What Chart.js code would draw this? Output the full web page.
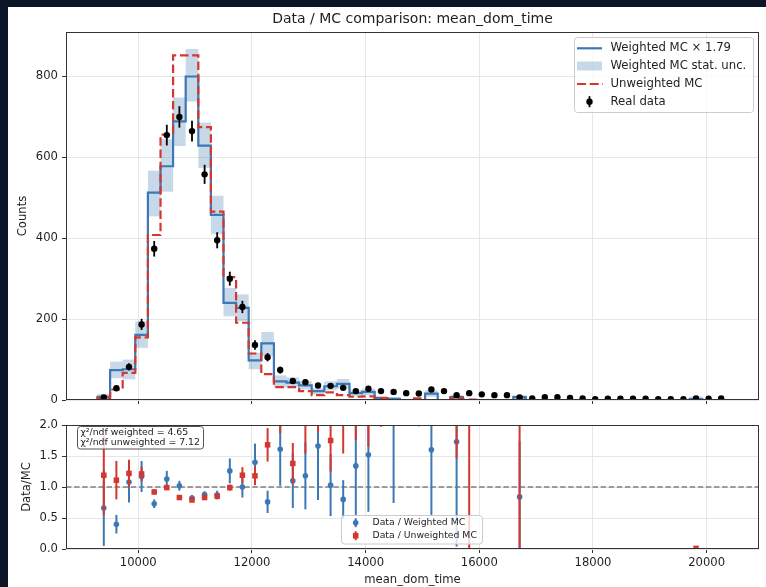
<!DOCTYPE html>
<html>
<head>
<meta charset="utf-8">
<title>Data / MC comparison: mean_dom_time</title>
<script src="https://cdn.jsdelivr.net/npm/chart.js@4.4.1/dist/chart.umd.min.js"></script>
<style>
html, body { margin:0; padding:0; background:#0c1628; width:766px; height:587px; overflow:hidden; }
#fig { position:absolute; left:8px; top:7px; width:758px; height:580px; background:#ffffff; }
canvas { position:absolute; left:0; }
#main { top:0; }
#ratio { top:410px; }
</style>
</head>
<body>
<div id="fig"></div>
<canvas id="main" width="766" height="415"></canvas>
<canvas id="ratio" width="766" height="177"></canvas>
<script>
// ---------------- data ----------------
const binEdges = [9282, 9504, 9725, 9947, 10169, 10391, 10612, 10834, 11056, 11277, 11499, 11721, 11942, 12164, 12386, 12608, 12829, 13051, 13273, 13494, 13716, 13938, 14159, 14381, 14603, 14825, 15046, 15268, 15490, 15711, 15933, 16155, 16376, 16598, 16820, 17042, 17263, 17485, 17707, 17928, 18150, 18372, 18593, 18815, 19037, 19258, 19480, 19702, 19924, 20145, 20367];

const realData = [6, 29, 82, 187, 374, 655, 700, 665, 558, 395, 300, 230, 136, 106, 74, 47, 44, 36, 35, 30, 22, 28, 22, 20, 17, 16, 26, 22, 12, 17, 14, 12, 12, 6, 4, 7, 7, 5, 4, 2, 3, 3, 3, 3, 2, 2, 2, 4, 3, 4];
const realDataErr = [2.4, 5.4, 9.1, 13.7, 19.3, 25.6, 26.5, 25.8, 23.6, 19.9, 17.3, 15.2, 11.7, 10.3, 8.6, 6.9, 6.6, 6.0, 5.9, 5.5, 4.7, 5.3, 4.7, 4.5, 4.1, 4.0, 5.1, 4.7, 3.5, 4.1, 3.7, 3.5, 3.5, 2.4, 2.0, 2.6, 2.6, 2.2, 2.0, 1.4, 1.7, 1.7, 1.7, 1.7, 1.4, 1.4, 1.4, 2.0, 1.7, 2.0];

const weightedMC = [8, 74, 76, 161, 513, 578, 689, 800, 629, 458, 240, 228, 98, 140, 46, 43, 36, 22, 34, 40, 17, 20, 5, 3, 0, 0, 16, 0, 7, 0, 0, 0, 0, 7, 0, 0, 0, 0, 0, 0, 0, 0, 0, 0, 0, 0, 0, 2, 0, 0];
const weightedLow = [3, 54, 51, 129, 454, 515, 628, 738, 574, 410, 207, 195, 76, 109, 31, 31, 26, 14, 24, 28, 9, 12, 1, 0, 0, 0, 8, 0, 2, 0, 0, 0, 0, 2, 0, 0, 0, 0, 0, 0, 0, 0, 0, 0, 0, 0, 0, 0, 0, 0];
const weightedHigh = [15, 95, 100, 195, 567, 645, 748, 868, 686, 505, 277, 261, 117, 168, 61, 56, 47, 30, 46, 52, 25, 28, 10, 7, 0, 0, 24, 0, 13, 0, 0, 0, 0, 12, 0, 0, 0, 0, 0, 0, 0, 0, 0, 0, 0, 0, 0, 9, 0, 0];

const unweightedMC = [5, 26, 67, 155, 408, 656, 852, 852, 675, 466, 304, 191, 115, 64, 32, 32, 22, 12, 19, 12, 8, 9, 5, 0, 0, 4, 0, 0, 5, 1, 0, 0, 0, 1, 0, 0, 0, 0, 0, 0, 0, 0, 0, 0, 0, 0, 0, 0, 0, 0];

const ratioWeighted = [0.66, 0.40, 1.08, 1.17, 0.73, 1.13, 1.02, 0.82, 0.88, 0.87, 1.26, 1.00, 1.40, 0.76, 1.61, 1.10, 1.18, 1.66, 1.03, 0.80, 1.34, 1.52, null, 2.90, null, null, 1.60, null, 1.73, null, null, null, null, 0.84, null, null, null, null, null, null, null, null, null, null, null, null, null, null, null, null];
const ratioWeightedErr = [0.61, 0.15, 0.33, 0.25, 0.07, 0.13, 0.08, 0.05, 0.05, 0.07, 0.20, 0.17, 0.30, 0.18, 0.59, 0.44, 0.54, 0.87, 0.50, 0.31, 0.79, 0.92, null, 2.16, null, null, 1.05, null, 1.69, null, null, null, null, 0.90, null, null, null, null, null, null, null, null, null, null, null, null, null, null, null, null];

const ratioUnweighted = [1.19, 1.11, 1.22, 1.21, 0.92, 0.99, 0.83, 0.79, 0.83, 0.85, 0.99, 1.19, 1.18, 1.68, 2.31, 1.38, 2.20, 3.00, 1.75, 2.60, 2.80, 3.10, 4.40, null, null, 4.00, null, null, 2.40, 17.0, null, null, null, 6.0, null, null, null, null, null, null, null, null, null, null, null, null, null, 0.01, null, null];
const ratioUnweightedErr = [0.64, 0.31, 0.22, 0.12, 0.04, 0.04, 0.03, 0.03, 0.03, 0.04, 0.05, 0.13, 0.15, 0.27, 0.44, 0.33, 0.66, 1.11, 0.50, 1.06, 1.04, 1.45, 2.43, null, null, 2.02, null, null, 0.94, 17.5, null, null, null, 6.5, null, null, null, null, null, null, null, null, null, null, null, null, null, 0.01, null, null];

const xRange = [8728, 20921];
const xTickValues = [10000, 12000, 14000, 16000, 18000, 20000];
const countRange = [0, 910];
const countTickValues = [0, 200, 400, 600, 800];
const ratioRange = [0, 2];
const ratioTickValues = [0.0, 0.5, 1.0, 1.5, 2.0];

const titleText = 'Data / MC comparison: mean_dom_time';
const xLabel = 'mean_dom_time';
const countLabel = 'Counts';
const ratioLabel = 'Data/MC';
const mainLegendLabels = ['Weighted MC \u00d7 1.79', 'Weighted MC stat. unc.', 'Unweighted MC', 'Real data'];
const ratioLegendLabels = ['Data / Weighted MC', 'Data / Unweighted MC'];
const chiLines = ['\u03c7\u00b2/ndf weighted = 4.65', '\u03c7\u00b2/ndf unweighted = 7.12'];

// ---------------- styling ----------------
const TXT = '#1e1e1e';
const BLUE = '#3b78b5';
const RED = '#d3372f';
const BAND = 'rgba(70,130,180,0.3)';
const GRID = '#e6e6e6';
const SPINE = '#333333';
const FAMILY = "'DejaVu Sans', sans-serif";

Chart.defaults.font.family = FAMILY;
Chart.defaults.font.size = 11.6;
Chart.defaults.color = TXT;

const binCenters = binEdges.slice(0, -1).map((e, i) => (e + binEdges[i + 1]) / 2);

function stepLine(values) {
  const last = binEdges[binEdges.length - 1];
  const pts = [{x: binEdges[0], y: 0}];
  values.forEach((v, i) => pts.push({x: binEdges[i], y: v}));
  pts.push({x: last, y: values[values.length - 1]});
  pts.push({x: last, y: 0});
  return pts;
}
function ratioPoints(vals) {
  return binCenters.map((c, i) => vals[i] === null ? null : {x: c, y: vals[i]}).filter(p => p);
}
function ratioBars(vals, errs) {
  return binCenters.map((c, i) => vals[i] === null ? null : {x: c, y: [vals[i] - errs[i], vals[i] + errs[i]]}).filter(p => p);
}
function rrect(ctx, x, y, w, h, r) {
  ctx.beginPath();
  ctx.moveTo(x + r, y);
  ctx.lineTo(x + w - r, y);
  ctx.arcTo(x + w, y, x + w, y + r, r);
  ctx.lineTo(x + w, y + h - r);
  ctx.arcTo(x + w, y + h, x + w - r, y + h, r);
  ctx.lineTo(x + r, y + h);
  ctx.arcTo(x, y + h, x, y + h - r, r);
  ctx.lineTo(x, y + r);
  ctx.arcTo(x, y, x + r, y, r);
  ctx.closePath();
}

const framePlugin = {
  id: 'frame',
  afterDatasetsDraw(chart) {
    const {ctx, chartArea: a} = chart;
    ctx.save();
    ctx.strokeStyle = SPINE;
    ctx.lineWidth = 1;
    ctx.strokeRect(Math.round(a.left) + 0.5, Math.round(a.top) + 0.5,
                   Math.round(a.right - a.left) - 1, Math.round(a.bottom - a.top) - 1);
    ctx.restore();
  }
};

const mainLegend = {
  id: 'mainLegend',
  afterDraw(chart) {
    const ctx = chart.ctx;
    ctx.save();
    rrect(ctx, 574.5, 37.5, 179, 75, 3);
    ctx.fillStyle = 'rgba(255,255,255,0.8)';
    ctx.fill();
    ctx.strokeStyle = '#cccccc';
    ctx.lineWidth = 1;
    ctx.stroke();
    const x0 = 577, x1 = 602, xc = 589.5, tx = 610.5;
    const ys = [48.3, 66, 84, 101.7];
    ctx.strokeStyle = BLUE; ctx.lineWidth = 2.2; ctx.setLineDash([]);
    ctx.beginPath(); ctx.moveTo(x0, ys[0]); ctx.lineTo(x1, ys[0]); ctx.stroke();
    ctx.fillStyle = BAND;
    ctx.fillRect(x0, ys[1] - 4.5, x1 - x0, 9);
    ctx.strokeStyle = RED; ctx.setLineDash([9, 3.7]);
    ctx.beginPath(); ctx.moveTo(x0, ys[2]); ctx.lineTo(x1 + 1, ys[2]); ctx.stroke();
    ctx.setLineDash([]);
    ctx.strokeStyle = '#000'; ctx.lineWidth = 1.8;
    ctx.beginPath(); ctx.moveTo(xc, ys[3] - 5.5); ctx.lineTo(xc, ys[3] + 5.5); ctx.stroke();
    ctx.fillStyle = '#000';
    ctx.beginPath(); ctx.arc(xc, ys[3], 3.2, 0, Math.PI * 2); ctx.fill();
    ctx.fillStyle = TXT;
    ctx.font = '11.7px ' + FAMILY;
    ctx.textBaseline = 'middle';
    ctx.textAlign = 'left';
    mainLegendLabels.forEach((t, i) => ctx.fillText(t, tx, ys[i]));
    ctx.restore();
  }
};

const ratioDecor = {
  id: 'ratioDecor',
  afterDraw(chart) {
    const ctx = chart.ctx;
    ctx.save();
    rrect(ctx, 77.5, 16.5, 126, 22.5, 3);
    ctx.fillStyle = 'rgba(255,255,255,0.8)';
    ctx.fill();
    ctx.strokeStyle = '#555555';
    ctx.lineWidth = 1;
    ctx.stroke();
    ctx.fillStyle = TXT;
    ctx.font = '9.3px ' + FAMILY;
    ctx.textBaseline = 'middle';
    ctx.textAlign = 'left';
    chiLines.forEach((t, i) => ctx.fillText(t, 80.5, 22.5 + i * 10));
    rrect(ctx, 341.5, 105.5, 141, 28.5, 3);
    ctx.fillStyle = 'rgba(255,255,255,0.8)';
    ctx.fill();
    ctx.strokeStyle = '#cccccc';
    ctx.stroke();
    const xc = 355.7, ys = [112.7, 125.7];
    ctx.lineWidth = 2;
    ctx.strokeStyle = BLUE;
    ctx.beginPath(); ctx.moveTo(xc, ys[0] - 4.5); ctx.lineTo(xc, ys[0] + 4.5); ctx.stroke();
    ctx.fillStyle = BLUE;
    ctx.beginPath(); ctx.arc(xc, ys[0], 2.8, 0, Math.PI * 2); ctx.fill();
    ctx.strokeStyle = RED;
    ctx.beginPath(); ctx.moveTo(xc, ys[1] - 4.5); ctx.lineTo(xc, ys[1] + 4.5); ctx.stroke();
    ctx.fillStyle = RED;
    ctx.fillRect(xc - 2.8, ys[1] - 2.8, 5.6, 5.6);
    ctx.fillStyle = TXT;
    ctx.font = '9.3px ' + FAMILY;
    ratioLegendLabels.forEach((t, i) => ctx.fillText(t, 372.5, ys[i]));
    ctx.restore();
  }
};

function fixedTicks(values) {
  return s => { s.ticks = values.map(v => ({value: v})); };
}

function xScale(showLabels) {
  return {
    type: 'linear', min: xRange[0], max: xRange[1], offset: false,
    border: {display: false},
    grid: {offset: false, color: GRID, lineWidth: 1, drawTicks: true, tickLength: 4, tickColor: SPINE, tickWidth: 1},
    ticks: {display: showLabels, padding: 3, color: TXT, maxRotation: 0, autoSkip: false,
            callback: v => String(v)},
    afterBuildTicks: fixedTicks(xTickValues),
    title: showLabels ? {display: true, text: xLabel, color: TXT, padding: {top: 0, bottom: 0}} : {display: false},
    afterFit: s => { s.height = showLabels ? 38 : 15; }
  };
}

// ---------------- main histogram panel ----------------
new Chart(document.getElementById('main'), {
  type: 'scatter',
  data: {
    datasets: [
      { type: 'bar', label: mainLegendLabels[1],
        data: binCenters.map((c, i) => ({x: c, y: [weightedLow[i], weightedHigh[i]]})),
        backgroundColor: BAND, borderWidth: 0, grouped: false, categoryPercentage: 1, barPercentage: 1,
        inflateAmount: 0, order: 5 },
      { type: 'line', label: mainLegendLabels[0], data: stepLine(weightedMC),
        borderColor: BLUE, borderWidth: 2.2, stepped: 'before', pointRadius: 0, fill: false, order: 4 },
      { type: 'line', label: mainLegendLabels[2], data: stepLine(unweightedMC),
        borderColor: RED, borderWidth: 2.2, borderDash: [8.5, 3.7], stepped: 'before', pointRadius: 0,
        fill: false, order: 3 },
      { type: 'bar', label: 'Real data error',
        data: binCenters.map((c, i) => ({x: c, y: [realData[i] - realDataErr[i], realData[i] + realDataErr[i]]})),
        backgroundColor: '#000000', borderWidth: 0, grouped: false, barThickness: 1.8, inflateAmount: 0, order: 2 },
      { type: 'scatter', label: mainLegendLabels[3],
        data: binCenters.map((c, i) => ({x: c, y: realData[i]})),
        pointRadius: 3.2, pointBackgroundColor: '#000000', pointBorderWidth: 0, order: 1 }
    ]
  },
  options: {
    responsive: false, animation: false, events: [],
    layout: {padding: {left: 8, right: 7, top: 0, bottom: 0}},
    plugins: {
      legend: {display: false}, tooltip: {enabled: false},
      title: {display: true, text: titleText, color: TXT, fullSize: false,
              font: {size: 14, weight: 'normal'}, padding: {top: 10.5, bottom: 4.7}}
    },
    scales: {
      x: xScale(false),
      y: {
        type: 'linear', min: countRange[0], max: countRange[1], offset: false,
        border: {display: false},
        grid: {color: GRID, lineWidth: 1, tickLength: 4, tickColor: SPINE, tickWidth: 1},
        ticks: {padding: 4, color: TXT, callback: v => String(v)},
        afterBuildTicks: fixedTicks(countTickValues),
        title: {display: true, text: countLabel, color: TXT, padding: {top: 8, bottom: 0}},
        afterFit: s => { s.width = 58; }
      }
    }
  },
  plugins: [framePlugin, mainLegend]
});

// ---------------- ratio panel ----------------
new Chart(document.getElementById('ratio'), {
  type: 'scatter',
  data: {
    datasets: [
      { type: 'line', label: 'unity', data: [{x: xRange[0], y: 1}, {x: xRange[1], y: 1}],
        borderColor: '#808080', borderWidth: 1.5, borderDash: [5.5, 2.6], pointRadius: 0, fill: false, order: 10 },
      { type: 'bar', label: 'w err', data: ratioBars(ratioWeighted, ratioWeightedErr),
        backgroundColor: BLUE, borderWidth: 0, grouped: false, barThickness: 2, inflateAmount: 0, order: 4 },
      { type: 'scatter', label: ratioLegendLabels[0], data: ratioPoints(ratioWeighted),
        pointRadius: 2.8, pointBackgroundColor: BLUE, pointBorderWidth: 0, order: 3 },
      { type: 'bar', label: 'u err', data: ratioBars(ratioUnweighted, ratioUnweightedErr),
        backgroundColor: RED, borderWidth: 0, grouped: false, barThickness: 2, inflateAmount: 0, order: 2 },
      { type: 'scatter', label: ratioLegendLabels[1], data: ratioPoints(ratioUnweighted),
        pointStyle: 'rect', pointRadius: 3.9, pointBackgroundColor: RED, pointBorderWidth: 0, order: 1 }
    ]
  },
  options: {
    responsive: false, animation: false, events: [],
    layout: {padding: {left: 8, right: 7, top: 15, bottom: 0}},
    plugins: {legend: {display: false}, tooltip: {enabled: false}},
    scales: {
      x: xScale(true),
      y: {
        type: 'linear', min: ratioRange[0], max: ratioRange[1], offset: false,
        border: {display: false},
        grid: {color: GRID, lineWidth: 1, tickLength: 4, tickColor: SPINE, tickWidth: 1},
        ticks: {padding: 4, color: TXT, callback: v => Number(v).toFixed(1)},
        afterBuildTicks: fixedTicks(ratioTickValues),
        title: {display: true, text: ratioLabel, color: TXT, padding: {top: 12, bottom: 0}},
        afterFit: s => { s.width = 58; }
      }
    }
  },
  plugins: [framePlugin, ratioDecor]
});
</script>
</body>
</html>
